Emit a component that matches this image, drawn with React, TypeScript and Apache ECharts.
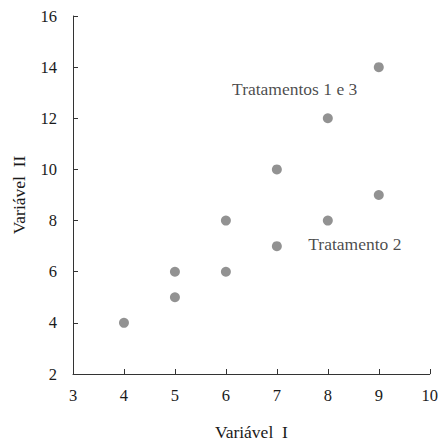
import React, { useEffect, useRef } from "react";
import * as echarts from "echarts";

const points: [number, number][] = [
  [4, 4], [5, 5], [5, 6], [6, 6], [6, 8], [7, 7], [7, 10], [8, 8], [8, 12], [9, 9], [9, 14],
];
const annotations: [number, number, string][] = [
  [7.35, 13.15, "Tratamentos 1 e 3"],
  [8.53, 7.07, "Tratamento 2"],
];
const xName = "Variável  I";
const yName = "Variável  II";

export default function App() {
  const ref = useRef<HTMLDivElement>(null);
  useEffect(() => {
    document.body.style.margin = "0";
    const chart = echarts.init(ref.current!, null, { renderer: "svg" });
    const font = "Liberation Serif";
    chart.setOption({
      animation: false,
      textStyle: { fontFamily: font },
      grid: { left: 73, right: 6.5, top: 16, bottom: 68 },
      xAxis: {
        type: "value", min: 3, max: 10, interval: 1,
        name: xName, nameLocation: "middle", nameGap: 49,
        nameTextStyle: { fontFamily: font, fontSize: 17.5, color: "#1a1a1a" },
        axisLine: { show: true, lineStyle: { color: "#333", width: 1 } },
        axisTick: { show: true, inside: true, length: 5, lineStyle: { color: "#333" } },
        axisLabel: { margin: 13, fontFamily: font, fontSize: 16.5, color: "#1a1a1a" },
        splitLine: { show: false },
      },
      yAxis: {
        type: "value", min: 2, max: 16, interval: 2,
        name: yName, nameLocation: "middle", nameGap: 45, nameRotate: 90,
        nameTextStyle: { fontFamily: font, fontSize: 17.5, color: "#1a1a1a" },
        axisLine: { show: true, lineStyle: { color: "#333", width: 1 } },
        axisTick: { show: true, inside: true, length: 5, lineStyle: { color: "#333" } },
        axisLabel: { margin: 16, fontFamily: font, fontSize: 16.5, color: "#1a1a1a" },
        splitLine: { show: false },
      },
      series: [
        {
          type: "scatter", data: points, symbolSize: 10,
          itemStyle: { color: "#777777" },
        },
        {
          type: "scatter", data: annotations, symbolSize: 0, silent: true,
          label: {
            show: true, position: "inside", formatter: (p: any) => p.data[2],
            fontFamily: font, fontSize: 17.5, color: "#1a1a1a",
          },
        },
      ],
    });
    return () => chart.dispose();
  }, []);
  return <div ref={ref} style={{ width: 441, height: 446, overflow: "hidden" }} />;
}
